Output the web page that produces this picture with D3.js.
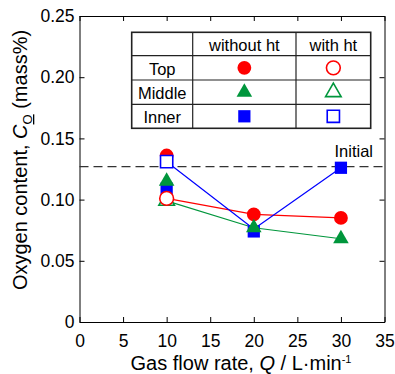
<!DOCTYPE html>
<html>
<head>
<meta charset="utf-8">
<script src="https://cdn.jsdelivr.net/npm/d3@7"></script>
<style>
  html, body { margin: 0; padding: 0; background: #fff; }
  svg { display: block; font-family: "Liberation Sans", Arial, sans-serif; }
</style>
</head>
<body>
<div id="chart"></div>
<script>
// Oxygen content vs gas flow rate
const flow = [10, 20, 30];
const topNoHt = [0.136, 0.088, 0.085];
const midNoHt = [0.115, 0.077, 0.068];
const innNoHt = [0.109, 0.074, 0.126];
const flowHt = [10];
const topHt = [0.101];
const midHt = [0.099];
const innHt = [0.131];
// connecting lines start from the with-ht point at 10
const lineTop = [0.101, 0.088, 0.085];
const lineMid = [0.099, 0.077, 0.068];
const lineInn = [0.131, 0.076, 0.126];
const initialValue = 0.127;

const xTicks = [0, 5, 10, 15, 20, 25, 30, 35];
const yTicks = [0, 0.05, 0.10, 0.15, 0.20, 0.25];
const legendRows = ['Top', 'Middle', 'Inner'];
const legendCols = ['without ht', 'with ht'];

const W = 395, H = 374;
const RED = '#ff0000', GREEN = '#00963c', BLUE = '#0000ff';

const x = d3.scaleLinear().domain([0, 35]).range([79.5, 384.5]);
const y = d3.scaleLinear().domain([0, 0.25]).range([322, 16]);

const svg = d3.select('#chart').append('svg')
  .attr('width', W).attr('height', H);

// axes (ticks pointing inward)
const fmtY = d => d === 0 ? '0' : d3.format('.2f')(d);
svg.append('g').attr('transform', `translate(0,${y(0)})`)
  .call(d3.axisBottom(x).tickValues(xTicks).tickSizeInner(-5).tickSizeOuter(0).tickPadding(13))
  .call(g => g.selectAll('text').style('font-size', '17.5px').attr('fill', '#000'));
svg.append('g').attr('transform', `translate(0,${y(0.25)})`)
  .call(d3.axisTop(x).tickValues(xTicks).tickSizeInner(-5).tickSizeOuter(0).tickFormat(''));
svg.append('g').attr('transform', `translate(${x(0)},0)`)
  .call(d3.axisLeft(y).tickValues(yTicks).tickSizeInner(-5).tickSizeOuter(0).tickPadding(5).tickFormat(fmtY))
  .call(g => g.selectAll('text').style('font-size', '17.5px').attr('fill', '#000'));
svg.append('g').attr('transform', `translate(${x(35)},0)`)
  .call(d3.axisRight(y).tickValues(yTicks).tickSizeInner(-5).tickSizeOuter(0).tickFormat(''));
svg.selectAll('.domain').attr('stroke', '#000');
svg.selectAll('.tick line').attr('stroke', '#000');

// axis titles
const xt = svg.append('text').attr('x', 241).attr('y', 370)
  .attr('text-anchor', 'middle').style('font-size', '20px');
xt.append('tspan').text('Gas flow rate, ');
xt.append('tspan').style('font-style', 'italic').text('Q');
xt.append('tspan').text(' / L\u00b7min');
xt.append('tspan').attr('dy', -7).style('font-size', '11px').text('-1');

const yt = svg.append('text').attr('transform', 'translate(27,160) rotate(-90)')
  .attr('text-anchor', 'middle').style('font-size', '20px');
yt.append('tspan').text('Oxygen content, ');
yt.append('tspan').style('font-style', 'italic').text('C');
yt.append('tspan').attr('dy', 5).style('font-size', '13px')
  .style('text-decoration', 'underline').text('O');
yt.append('tspan').attr('dy', -5).text(' (mass%)');

// initial level
svg.append('line')
  .attr('x1', x(0)).attr('x2', x(35))
  .attr('y1', y(initialValue)).attr('y2', y(initialValue))
  .attr('stroke', '#333').attr('stroke-width', 1.2).attr('stroke-dasharray', '9,5');
svg.append('text').attr('x', 373).attr('y', y(initialValue) - 10)
  .attr('text-anchor', 'end').style('font-size', '16.5px').text('Initial');

// lines
const line = d3.line().x((d, i) => x(flow[i])).y(d => y(d));
[[lineTop, RED], [lineMid, GREEN], [lineInn, BLUE]].forEach(([vals, c]) => {
  svg.append('path').attr('d', line(vals))
    .attr('fill', 'none').attr('stroke', c).attr('stroke-width', 1.2);
});

// markers
const SYM = {
  circle: d3.symbol().type(d3.symbolCircle).size(150)(),
  triangle: d3.symbol().type(d3.symbolTriangle).size(105)(),
  square: d3.symbol().type(d3.symbolSquare).size(150)()
};
function mark(px, py, shape, color, open) {
  svg.append('path').attr('d', SYM[shape])
    .attr('transform', `translate(${px},${py})`)
    .attr('fill', open ? '#fff' : color)
    .attr('stroke', open ? color : 'none')
    .attr('stroke-width', 1.6);
}
flow.forEach((f, i) => mark(x(f), y(topNoHt[i]), 'circle', RED, false));
flow.forEach((f, i) => mark(x(f), y(innNoHt[i]), 'square', BLUE, false));
flow.forEach((f, i) => mark(x(f), y(midNoHt[i]), 'triangle', GREEN, false));
flowHt.forEach((f, i) => mark(x(f), y(midHt[i]), 'triangle', GREEN, true));
flowHt.forEach((f, i) => mark(x(f), y(topHt[i]), 'circle', RED, true));
flowHt.forEach((f, i) => mark(x(f), y(innHt[i]), 'square', BLUE, true));

// legend table
const colX = [131.7, 192.7, 296, 370.7];
const rowY = [32.3, 55.7, 80, 104.3, 128.3];
const lg = svg.append('g');
lg.append('rect').attr('x', colX[0]).attr('y', rowY[0])
  .attr('width', colX[3] - colX[0]).attr('height', rowY[4] - rowY[0])
  .attr('fill', '#fff').attr('stroke', '#222').attr('stroke-width', 1.6);
colX.slice(1, 3).forEach(cx => lg.append('line')
  .attr('x1', cx).attr('x2', cx).attr('y1', rowY[0]).attr('y2', rowY[4])
  .attr('stroke', '#222').attr('stroke-width', 1.2));
rowY.slice(1, 4).forEach(ry => lg.append('line')
  .attr('x1', colX[0]).attr('x2', colX[3]).attr('y1', ry).attr('y2', ry)
  .attr('stroke', '#222').attr('stroke-width', 1.2));
legendCols.forEach((t, j) => lg.append('text')
  .attr('x', (colX[j + 1] + colX[j + 2]) / 2).attr('y', rowY[1] - 5)
  .attr('text-anchor', 'middle').style('font-size', '16.5px').text(t));
const shapes = ['circle', 'triangle', 'square'];
const colors = [RED, GREEN, BLUE];
legendRows.forEach((t, i) => {
  const cy = (rowY[i + 1] + rowY[i + 2]) / 2;
  lg.append('text').attr('x', (colX[0] + colX[1]) / 2).attr('y', rowY[i + 2] - 5)
    .attr('text-anchor', 'middle').style('font-size', '16.5px').text(t);
  [false, true].forEach((open, j) => {
    lg.append('path').attr('d', SYM[shapes[i]])
      .attr('transform', `translate(${(colX[j + 1] + colX[j + 2]) / 2},${cy})`)
      .attr('fill', open ? '#fff' : colors[i])
      .attr('stroke', open ? colors[i] : 'none')
      .attr('stroke-width', 1.6);
  });
});
</script>
</body>
</html>
